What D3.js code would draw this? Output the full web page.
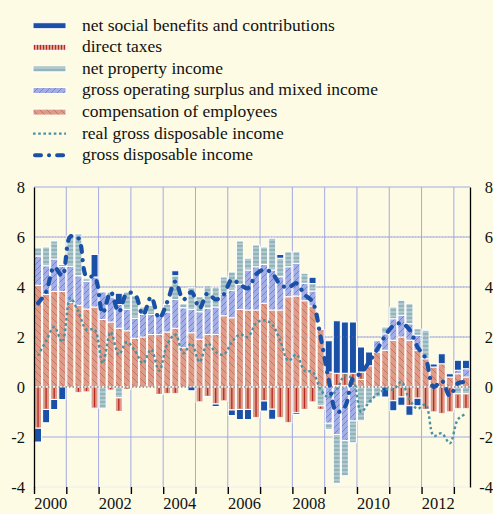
<!DOCTYPE html>
<html><head><meta charset="utf-8">
<script src="https://cdn.jsdelivr.net/npm/d3@7"></script>
<style>
html,body{margin:0;padding:0;background:#fdfbe4;}
svg{display:block;}
svg text{font-family:"Liberation Serif","DejaVu Serif","Times New Roman",Times,serif;fill:#111;}
</style></head><body>
<svg id="chart" width="493" height="514"></svg>
<script>
// ---- data (quarterly contributions, 2000Q1 .. 2013Q2) ----
const startYear = 2000;
const nQuarters = 54;
const quarters = d3.range(nQuarters).map(i => (startYear + Math.floor(i / 4)) + "Q" + (i % 4 + 1));

const compensation = [4.07,3.70,3.82,3.82, 3.38,3.27,3.12,3.20, 2.70,2.60,2.35,2.25, 1.95,2.00,2.10,2.10,
  2.20,2.35,1.57,2.17, 1.91,2.10,2.10,2.85, 2.77,3.10,3.08,3.08, 3.35,3.08,3.08,3.61,
  3.64,3.45,3.24,2.30, 0.60,0.05,0.05,0.05, 0.30,0.85,1.40,1.47, 1.87,2.00,1.87,1.47,
  1.13,0.80,0.93,0.40, 0.53,0.40];
const grossOperating = [1.17,1.15,1.30,1.00, 1.45,1.18,1.10,1.20, 1.10,1.00,0.95,0.85, 0.80,0.90,0.80,0.80,
  0.80,1.15,1.60,0.93, 1.10,1.05,1.10,0.85, 1.10,1.00,1.60,1.73, 1.55,1.60,1.33,1.20,
  1.31,0.70,0.60,0.00, -1.45,-1.90,-2.15,-1.36, 0.00,0.00,0.45,0.66, 0.86,0.87,0.66,0.60,
  0.00,0.00,0.00,0.00, 0.14,0.33];
const netProperty = [0.33,0.75,0.72,0.08, 1.22,1.67,0.13,0.00, -0.85,0.20,-0.43,0.70, 0.90,0.30,0.35,0.00,
  0.30,0.95,0.16,0.87, 0.60,0.90,0.80,0.70, 0.73,1.74,0.47,0.87, 0.70,1.27,0.74,0.60,
  0.46,0.40,0.30,-0.75, -0.25,-1.95,-1.40,-0.87, -1.35,-0.65,-0.40,0.27, 0.47,0.60,0.80,0.26,
  1.14,0.00,0.00,0.00, -0.27,-0.27];
const directTaxes = [-1.65,-0.90,-0.50,0.00, 0.00,-0.23,-0.20,-0.85, 0.00,-0.13,-0.55,-0.10, 0.00,0.00,0.00,-0.30,
  -0.27,-0.27,0.00,0.00, -0.60,-0.38,-0.68,-0.56, -0.92,-0.90,-0.90,-1.23, -0.56,-0.89,-1.23,-1.43,
  -1.03,-0.90,-0.60,-0.15, 0.00,0.50,0.50,0.50, 0.30,0.00,0.00,0.00, -0.55,-0.40,-0.75,-0.45,
  -0.90,-1.00,-1.07,-1.00, -0.60,-0.60];
const socialBenefits = [-0.55,-0.53,-0.40,-0.50, 0.00,0.00,0.00,0.90, 0.00,0.00,0.45,0.00, 0.00,0.00,0.00,0.00,
  0.00,0.20,0.00,-0.15, 0.00,0.00,-0.10,0.00, -0.22,-0.40,-0.40,0.00, -0.40,-0.40,0.15,0.00,
  -0.07,0.00,0.25,0.00, 1.25,2.10,2.05,2.05, 1.00,0.55,0.00,-0.40, -0.40,-0.33,-0.38,-0.30,
  0.00,0.12,0.40,0.13, 0.40,0.34];
const grossDisposable = [3.35,3.80,4.80,4.45, 6.02,5.95,4.42,4.40, 2.95,3.80,3.00,3.75, 3.70,2.88,3.60,2.75,
  3.40,4.22,3.50,3.80, 3.15,3.75,3.50,3.70, 4.30,4.10,3.95,4.50, 4.70,4.55,4.10,3.98,
  4.15,3.70,3.40,2.00, 0.30,-1.00,-0.80,0.35, 0.55,1.00,1.50,2.05, 2.45,2.55,2.30,1.60,
  1.15,0.00,0.25,-0.35, 0.15,0.20];
const realGrossDisposable = [1.25,1.85,2.40,1.80, 3.55,3.00,2.30,2.30, 0.95,2.20,1.30,1.80, 1.45,0.95,1.50,0.65,
  1.70,2.10,1.35,1.75, 1.00,1.75,1.40,1.30, 1.80,2.10,2.00,2.55, 2.67,2.50,1.85,1.05,
  1.30,0.65,0.60,-0.10, -0.42,-0.10,0.45,0.30, -1.00,-0.60,-0.30,-0.10, -0.10,0.20,-0.50,-0.87,
  -0.70,-1.95,-1.85,-2.25, -1.30,-1.07];
const yearTicks = d3.range(2000, 2014);
const yearLabels = [2000, 2002, 2004, 2006, 2008, 2010, 2012];
const yTicks = [-4, -2, 0, 2, 4, 6, 8];

const seriesKeys = ["comp", "gos", "npi", "taxes", "social"];
const legendItems = [
  {key: "social", label: "net social benefits and contributions"},
  {key: "taxes", label: "direct taxes"},
  {key: "npi", label: "net property income"},
  {key: "gos", label: "gross operating surplus and mixed income"},
  {key: "comp", label: "compensation of employees"},
  {key: "real", label: "real gross disposable income"},
  {key: "gdi", label: "gross disposable income"}
];

// ---- build ----
const table = quarters.map((q, i) => ({
  q, t: startYear + (i + 0.5) / 4,
  comp: compensation[i], gos: grossOperating[i], npi: netProperty[i],
  taxes: directTaxes[i], social: socialBenefits[i],
  gdi: grossDisposable[i], real: realGrossDisposable[i]
}));

const FONT = '"Liberation Serif","DejaVu Serif","Times New Roman",serif';
const svg = d3.select("#chart");
const W = 493, H = 514;
const x = d3.scaleLinear().domain([2000, 2013.5]).range([34, 470]);
const y = d3.scaleLinear().domain([-4, 8]).range([487, 187]);

const C = {
  bg: "#fdfbe4", grid: "#a3aae2", comp: "#dd9c88", compLine: "#c0564a",
  taxLine: "#b42a22", gos: "#a3aee7", gosLine: "#5568c0", npi: "#b0c9cd", npiLine: "#76a0aa",
  social: "#1a50a6", gdi: "#1a50a6", real: "#4a91a2"
};

const defs = svg.append("defs");
function pat(id, w, h, fill, draw) {
  const p = defs.append("pattern").attr("id", id).attr("patternUnits", "userSpaceOnUse")
    .attr("width", w).attr("height", h);
  p.append("rect").attr("width", w).attr("height", h).attr("fill", fill);
  draw(p);
}
pat("pComp", 7, 7, C.comp, p => p.append("path").attr("d", "M0,0L7,7M-1,6L1,8M6,-1L8,1")
  .attr("stroke", C.compLine).attr("stroke-width", 0.6));
pat("pGos", 6, 6, C.gos, p => p.append("path").attr("d", "M0,6L6,0M-1,1L1,-1M5,7L7,5")
  .attr("stroke", C.gosLine).attr("stroke-width", 0.6));
pat("pNpi", 4, 4, C.npi, p => p.append("rect").attr("y", 1.5).attr("width", 4).attr("height", 1)
  .attr("fill", C.npiLine));
pat("pTax", 3, 3, C.comp, p => p.append("rect").attr("x", 1).attr("width", 1).attr("height", 3)
  .attr("fill", C.taxLine));
const fills = {comp: "url(#pComp)", gos: "url(#pGos)", npi: "url(#pNpi)", taxes: C.comp, social: C.social};

svg.append("rect").attr("width", W).attr("height", H).attr("fill", C.bg);

// grid
const g = svg.append("g");
g.selectAll("line.h").data([-4, -2, 2, 4, 6, 8]).join("line")
  .attr("x1", x(2000)).attr("x2", x(2013.5)).attr("y1", d => y(d)).attr("y2", d => y(d))
  .attr("stroke", d => d === -4 ? "#eeeef4" : C.grid).attr("stroke-width", 1);
g.selectAll("line.v").data(yearTicks.filter(d => d > 2000)).join("line")
  .attr("x1", d => x(d)).attr("x2", d => x(d)).attr("y1", y(8)).attr("y2", y(-4))
  .attr("stroke", C.grid).attr("stroke-width", 1);

// stacked bars
const stack = d3.stack().keys(seriesKeys).offset(d3.stackOffsetDiverging);
const stacked = stack(table);
const bw = 7;
const barG = svg.append("g");
stacked.forEach(layer => {
  const key = layer.key;
  barG.append("g").selectAll("rect").data(layer.filter(d => Math.abs(d[1] - d[0]) > 0.001)).join("rect")
    .attr("x", d => x(d.data.t) - bw / 2).attr("width", bw)
    .attr("y", d => y(Math.max(d[0], d[1])))
    .attr("height", d => Math.abs(y(d[0]) - y(d[1])))
    .attr("fill", fills[key]).attr("stroke", "#fff").attr("stroke-width", 1);
  if (key === "taxes") {
    barG.append("g").selectAll("line").data(layer.filter(d => Math.abs(d[1] - d[0]) > 0.05)).join("line")
      .attr("x1", d => x(d.data.t)).attr("x2", d => x(d.data.t))
      .attr("y1", d => y(Math.max(d[0], d[1])) + 1).attr("y2", d => y(Math.min(d[0], d[1])) - 1)
      .attr("stroke", C.taxLine).attr("stroke-width", 1.3);
  }
});

// dotted overlay grid across bars & zero line
svg.append("g").selectAll("line").data([2, 4, 6]).join("line")
  .attr("x1", x(2000)).attr("x2", x(2013.5)).attr("y1", d => y(d)).attr("y2", d => y(d))
  .attr("stroke", "#8a8fb5").attr("stroke-opacity", 0.45).attr("stroke-dasharray", "1,2");
svg.append("line").attr("x1", x(2000)).attr("x2", x(2013.5)).attr("y1", y(0)).attr("y2", y(0))
  .attr("stroke", "#555").attr("stroke-width", 1).attr("stroke-dasharray", "1.5,2");

// lines
const curve = d3.curveCatmullRom.alpha(0.5);
svg.append("path").datum(table)
  .attr("d", d3.line().x(d => x(d.t)).y(d => y(d.real)).curve(curve))
  .attr("fill", "none").attr("stroke", C.real).attr("stroke-width", 2.4).attr("stroke-dasharray", "2.6,2.6");
svg.append("path").datum(table)
  .attr("d", d3.line().x(d => x(d.t)).y(d => y(d.gdi)).curve(curve))
  .attr("fill", "none").attr("stroke", C.gdi).attr("stroke-width", 4.2)
  .attr("stroke-linecap", "round").attr("stroke-dasharray", "6,8,0.1,8");

// axes
const fmt = d => String(d);
const axL = svg.append("g").attr("transform", `translate(${x(2000)},0)`)
  .call(d3.axisLeft(y).tickValues(yTicks).tickSize(0).tickPadding(9).tickFormat(fmt));
axL.select(".domain").attr("stroke", "#000").attr("stroke-width", 1.3);
const axR = svg.append("g").attr("transform", `translate(${x(2013.5)},0)`)
  .call(d3.axisRight(y).tickValues(yTicks).tickSize(0).tickFormat(fmt));
axR.select(".domain").attr("stroke", "#000").attr("stroke-width", 1.3);
axR.selectAll("text").attr("text-anchor", "end").attr("x", 23);
[axL, axR].forEach(a => {
  a.attr("font-family", FONT).attr("font-size", 16.5);
  a.selectAll("text").attr("font-family", FONT).attr("font-size", 16.5).attr("fill", "#111").attr("dy", "0.34em");
});

const axB = svg.append("g").attr("transform", `translate(0,${y(-4)})`)
  .call(d3.axisBottom(x).tickValues(yearTicks).tickSize(7).tickFormat(""));
axB.select(".domain").remove();
axB.selectAll("line").attr("stroke", "#000").attr("stroke-width", 1.4);
const axB2 = svg.append("g").attr("transform", `translate(0,${y(-4)})`)
  .call(d3.axisBottom(x).tickValues(yearLabels.map(d => d + 0.5)).tickSize(0).tickPadding(0)
    .tickFormat(d => String(Math.floor(d))));
axB2.select(".domain").remove();
axB2.attr("font-family", FONT).attr("font-size", 16.5);
axB2.selectAll("text").attr("font-family", FONT).attr("font-size", 16.5)
  .attr("fill", "#111").attr("y", 22).attr("dy", "0");

// legend
const lg = svg.append("g").attr("font-family", FONT);
legendItems.forEach((it, i) => {
  const base = 30.5 + 21.6 * i;
  const cy = base - 4.8;
  const row = lg.append("g");
  if (it.key === "real") {
    row.append("line").attr("x1", 33).attr("x2", 66).attr("y1", cy).attr("y2", cy)
      .attr("stroke", C.real).attr("stroke-width", 2.2).attr("stroke-dasharray", "2.6,2.6");
  } else if (it.key === "gdi") {
    row.append("line").attr("x1", 35).attr("x2", 64).attr("y1", cy).attr("y2", cy)
      .attr("stroke", C.gdi).attr("stroke-width", 4).attr("stroke-linecap", "round")
      .attr("stroke-dasharray", "6,8,0.1,8");
  } else {
    row.append("rect").attr("x", 33).attr("y", cy - 3).attr("width", 33).attr("height", 6)
      .attr("fill", it.key === "taxes" ? "url(#pTax)" : fills[it.key])
      .attr("stroke", "#fff").attr("stroke-width", 1);
  }
  row.append("text").attr("x", 82).attr("y", base).attr("font-family", FONT).attr("font-size", 17.5).text(it.label);
});
</script>
</body></html>
